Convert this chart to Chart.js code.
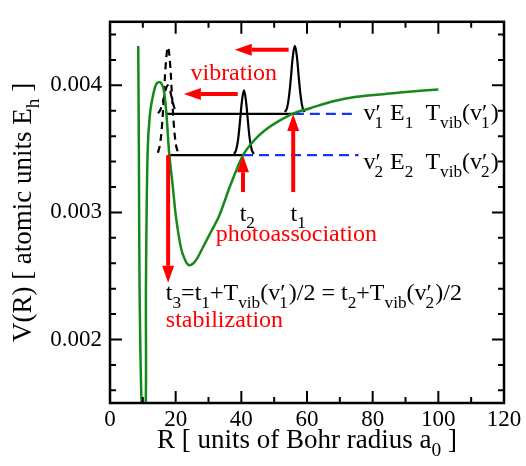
<!DOCTYPE html>
<html lang="en">
<head>
<meta charset="UTF-8">
<title>Photoassociation potential</title>
<style>
  html, body { margin: 0; padding: 0; background: #fff; }
  canvas { display: block; }
</style>
</head>
<body>
<canvas id="chart" width="526" height="466"></canvas>
<script src="https://cdn.jsdelivr.net/npm/chart.js"></script>
<script>
// axis ticks
const xTicks = [0, 20, 40, 60, 80, 100, 120];
const xMinor = [10, 30, 50, 70, 90, 110];
const yTicks = [0.002, 0.003, 0.004];
const yMinor = [0.0016, 0.0018, 0.0022, 0.0024, 0.0026, 0.0028, 0.0032, 0.0034, 0.0036, 0.0038, 0.0042, 0.0044];

// potential curve V(R)
const potR = [8.6, 8.8, 9.0, 9.6, 10.25, 10.9, 10.95, 11.45, 12.15, 13.1, 14.1, 15.3, 16.4, 17.2, 18.0,
              19.05, 20.05, 21.6, 22.8, 24.0, 25.4, 26.8, 28.2, 30.6, 33.2, 36.8, 40.5, 44.0, 47.4, 51.5, 55.9,
              61.0, 68.0, 75.0, 83.2, 91.0, 100.0];
const potV = [0.00431, 0.00347, 0.00242, 0.00150, 0.00130, 0.00150, 0.00242, 0.00347, 0.00377, 0.00392, 0.00401, 0.004025, 0.00396, 0.00377, 0.003474,
              0.003223, 0.002973, 0.002722, 0.00263, 0.002586, 0.0026, 0.00265, 0.00272, 0.00284, 0.00297, 0.003223, 0.00345, 0.00357, 0.00365, 0.00372, 0.00378,
              0.00382, 0.003875, 0.00391, 0.00393, 0.00395, 0.003968];

// wave packets
const pack1R = [53.3, 53.9, 54.5, 55.1, 55.7, 56.3, 56.9, 57.5, 58.1, 58.7, 59.3];
const pack1V = [0.00379, 0.00382, 0.00391, 0.00406, 0.00423, 0.00431, 0.00423, 0.00406, 0.00391, 0.00382, 0.00379];
const pack2R = [37.8, 38.4, 39.0, 39.6, 40.2, 40.8, 41.4, 42.0, 42.6, 43.2, 43.8];
const pack2V = [0.00346, 0.00349, 0.00357, 0.00372, 0.00388, 0.00396, 0.00388, 0.00372, 0.00357, 0.00349, 0.00346];
const pack3R = [14.6, 15.2, 15.8, 16.4, 17.0, 17.65, 18.3, 18.9, 19.5, 20.1, 20.7];
const pack3V = [0.00347, 0.00353, 0.00367, 0.00391, 0.00417, 0.00430, 0.00417, 0.00391, 0.00367, 0.00353, 0.00347];
const pack4R = [14.6, 15.2, 15.8, 16.4, 17.0, 17.6, 18.2, 18.8, 19.4, 20.0, 20.6];
const pack4V = [0.00378, 0.00380, 0.00384, 0.00390, 0.00397, 0.00400, 0.00397, 0.00390, 0.00384, 0.00380, 0.00378];

// vibrational levels
const levelE = [0.003775, 0.00345];
const levelFrom = [17.0, 17.6];
const levelCross = [56.0, 40.5];
const levelTo = [75.0, 75.7];

// red arrows [R, V] start -> tip
const arrowFrom = [[55.8, 0.00316], [40.5, 0.00316], [17.7, 0.00345], [54.4, 0.00428], [38.9, 0.003932]];
const arrowTo   = [[55.8, 0.003775], [40.5, 0.00345], [17.7, 0.002446], [38.0, 0.00428], [22.5, 0.003932]];

const serif = '"Liberation Serif", "Times New Roman", "DejaVu Serif", serif';

function pts(xs, ys) { return xs.map((x, i) => ({ x: x, y: ys[i] })); }

function line(data, color, width, dash, tension) {
  return { data: data, borderColor: color, borderWidth: width, borderDash: dash || [],
           showLine: true, pointRadius: 0, tension: tension || 0, fill: false };
}

const datasets = [
  line(pts(potR, potV), '#17891a', 2.5, null, 0.3),
  line(pts(pack1R, pack1V), '#000', 2.2, null, 0.4),
  line(pts(pack2R, pack2V), '#000', 2.2, null, 0.4),
  line(pts(pack3R, pack3V), '#000', 2.2, [7, 5], 0.4),
  line(pts(pack4R, pack4V), '#000', 2.2, [7, 5], 0.4)
];
levelE.forEach((e, i) => {
  datasets.push(line([{ x: levelFrom[i], y: e }, { x: levelCross[i], y: e }], '#000', 2.2));
  datasets.push(line([{ x: levelCross[i], y: e }, { x: levelTo[i], y: e }], '#1530ff', 2.2, [10, 6]));
});

// text with subscripts: kind 0 normal, 1 subscript, 2 prime over subscript
function richWidth(ctx, parts, size) {
  let w = 0;
  for (const [s, k] of parts) {
    if (k === 0) { ctx.font = size + 'px ' + serif; w += ctx.measureText(s).width; }
    else if (k === 1) { ctx.font = (size * 0.72) + 'px ' + serif; w += ctx.measureText(s).width; }
    else {
      ctx.font = size + 'px ' + serif; const pw = ctx.measureText('\u2032').width;
      ctx.font = (size * 0.72) + 'px ' + serif; const sw = ctx.measureText(s).width;
      w += Math.max(pw, sw);
    }
  }
  return w;
}

function drawRich(ctx, parts, x, y, size, color, align) {
  let cx = x;
  if (align === 'center') cx -= richWidth(ctx, parts, size) / 2;
  ctx.fillStyle = color;
  ctx.textAlign = 'left';
  ctx.textBaseline = 'alphabetic';
  for (const [s, k] of parts) {
    if (k === 0) {
      ctx.font = size + 'px ' + serif; ctx.fillText(s, cx, y); cx += ctx.measureText(s).width;
    } else if (k === 1) {
      ctx.font = (size * 0.72) + 'px ' + serif; ctx.fillText(s, cx, y + size * 0.3); cx += ctx.measureText(s).width;
    } else {
      ctx.font = size + 'px ' + serif; ctx.fillText('\u2032', cx, y); const pw = ctx.measureText('\u2032').width;
      ctx.font = (size * 0.72) + 'px ' + serif; ctx.fillText(s, cx - 1, y + size * 0.3); const sw = ctx.measureText(s).width;
      cx += Math.max(pw, sw);
    }
  }
}

const notes = [
  { r: 37.7, v: 0.004045, align: 'center', color: '#ff0000', parts: [['vibration', 0]] },
  { r: 77.2, v: 0.003724, align: 'left', color: '#000', parts: [['v', 0], ['1', 2], [' E', 0], ['1', 1], ['  T', 0], ['vib', 1], ['(v', 0], ['1', 2], [')', 0]] },
  { r: 77.2, v: 0.003338, align: 'left', color: '#000', parts: [['v', 0], ['2', 2], [' E', 0], ['2', 1], ['  T', 0], ['vib', 1], ['(v', 0], ['2', 2], [')', 0]] },
  { r: 39.5, v: 0.002932, align: 'left', color: '#000', parts: [['t', 0], ['2', 1]] },
  { r: 55.0, v: 0.002932, align: 'left', color: '#000', parts: [['t', 0], ['1', 1]] },
  { r: 32.2, v: 0.002774, align: 'left', color: '#ff0000', parts: [['photoassociation', 0]] },
  { r: 17.0, v: 0.002308, align: 'left', color: '#000', parts: [['t', 0], ['3', 1], ['=t', 0], ['1', 1], ['+T', 0], ['vib', 1], ['(v', 0], ['1', 2], [')/2 = t', 0], ['2', 1], ['+T', 0], ['vib', 1], ['(v', 0], ['2', 2], [')/2', 0]] },
  { r: 17.0, v: 0.0020977, align: 'left', color: '#ff0000', parts: [['stabilization', 0]] }
];

function drawArrow(ctx, x0, y0, x1, y1) {
  const dx = x1 - x0, dy = y1 - y0, len = Math.hypot(dx, dy);
  const ux = dx / len, uy = dy / len, hl = 17, hw = 6;
  ctx.strokeStyle = '#ff0000'; ctx.fillStyle = '#ff0000'; ctx.lineWidth = 4;
  ctx.beginPath(); ctx.moveTo(x0, y0); ctx.lineTo(x1 - ux * hl, y1 - uy * hl); ctx.stroke();
  ctx.beginPath();
  ctx.moveTo(x1, y1);
  ctx.lineTo(x1 - ux * hl - uy * hw, y1 - uy * hl + ux * hw);
  ctx.lineTo(x1 - ux * hl + uy * hw, y1 - uy * hl - ux * hw);
  ctx.closePath(); ctx.fill();
}

const decor = {
  id: 'decor',
  afterDatasetsDraw(chart) {
    const ctx = chart.ctx, a = chart.chartArea, sx = chart.scales.x, sy = chart.scales.y;
    ctx.save();
    arrowFrom.forEach((f, i) => {
      const t = arrowTo[i];
      drawArrow(ctx, sx.getPixelForValue(f[0]), sy.getPixelForValue(f[1]), sx.getPixelForValue(t[0]), sy.getPixelForValue(t[1]));
    });
    // frame and inward ticks on all sides
    ctx.strokeStyle = '#000'; ctx.lineWidth = 2.5;
    ctx.strokeRect(a.left, a.top, a.right - a.left, a.bottom - a.top);
    ctx.lineWidth = 2;
    ctx.beginPath();
    const xt = (v, l) => { const p = sx.getPixelForValue(v); ctx.moveTo(p, a.bottom); ctx.lineTo(p, a.bottom - l); ctx.moveTo(p, a.top); ctx.lineTo(p, a.top + l); };
    const yt = (v, l) => { const p = sy.getPixelForValue(v); ctx.moveTo(a.left, p); ctx.lineTo(a.left + l, p); ctx.moveTo(a.right, p); ctx.lineTo(a.right - l, p); };
    xTicks.forEach(v => xt(v, 12)); xMinor.forEach(v => xt(v, 6));
    yTicks.forEach(v => yt(v, 12)); yMinor.forEach(v => yt(v, 6));
    ctx.stroke();
    notes.forEach(n => drawRich(ctx, n.parts, sx.getPixelForValue(n.r), sy.getPixelForValue(n.v), 24, n.color, n.align));
    // axis titles
    drawRich(ctx, [['R [ units of Bohr radius a', 0], ['0', 1], [' ]', 0]], (a.left + a.right) / 2, 448, 27, '#000', 'center');
    ctx.translate(31, (a.top + a.bottom) / 2);
    ctx.rotate(-Math.PI / 2);
    drawRich(ctx, [['V(R) [ atomic units E', 0], ['h', 1], [' ]', 0]], 0, 0, 27, '#000', 'center');
    ctx.restore();
  }
};

new Chart(document.getElementById('chart'), {
  type: 'scatter',
  data: { datasets: datasets },
  plugins: [decor],
  options: {
    responsive: false,
    animation: false,
    layout: { padding: { top: 4, right: 22, left: 0, bottom: 0 } },
    plugins: { legend: { display: false }, tooltip: { enabled: false } },
    scales: {
      x: {
        type: 'linear', min: 0, max: 120,
        grid: { display: false, drawTicks: false }, border: { display: false },
        afterBuildTicks: s => { s.ticks = xTicks.map(v => ({ value: v })); },
        afterFit: s => { s.height = 63; },
        ticks: { color: '#000', padding: 3, maxRotation: 0, autoSkip: false, font: { family: serif, size: 23 } }
      },
      y: {
        type: 'linear', min: 0.0015, max: 0.0045,
        grid: { display: false, drawTicks: false }, border: { display: false },
        afterBuildTicks: s => { s.ticks = yTicks.map(v => ({ value: v })); },
        afterFit: s => { s.width = 110; },
        ticks: { color: '#000', padding: 8, font: { family: serif, size: 23 }, callback: v => v.toFixed(3) }
      }
    }
  }
});
</script>
</body>
</html>
